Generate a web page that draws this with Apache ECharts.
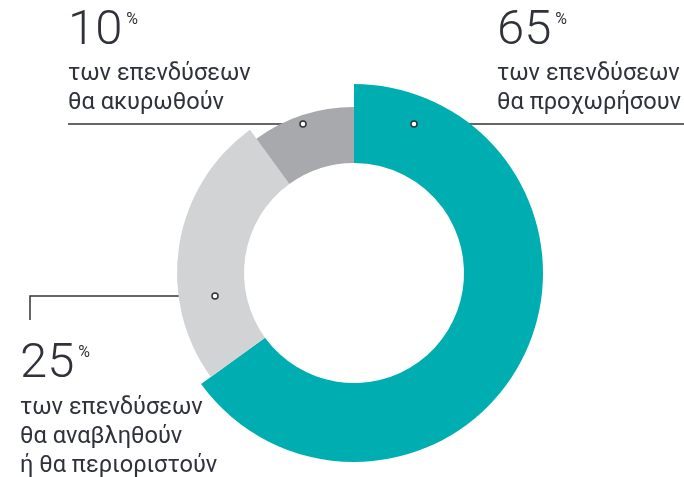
<!DOCTYPE html>
<html>
<head>
<meta charset="utf-8">
<style>
  html, body { margin: 0; padding: 0; background: #fff; }
  #chart { width: 684px; height: 477px; }
</style>
<script src="https://cdn.jsdelivr.net/npm/echarts@6/dist/echarts.min.js"></script>
</head>
<body>
<div id="chart"></div>
<script>
// data
const categories = ["θα προχωρήσουν", "θα αναβληθούν ή θα περιοριστούν", "θα ακυρωθούν"];
const values = [65, 25, 10];
const captionLines = [
  ["των επενδύσεων", "θα προχωρήσουν"],
  ["των επενδύσεων", "θα αναβληθούν", "ή θα περιοριστούν"],
  ["των επενδύσεων", "θα ακυρωθούν"],
];

// styles
const colors = ["#00aeb1", "#d1d3d4", "#a7a9ac"];
const outerRadius = [189, 177, 166];
const innerRadius = 110;
const center = [354, 273];
const textColor = "#30323b";
const lineColor = "#333333";
const fontFamily = "Roboto, 'Noto Sans', sans-serif";
const numFont = "300 49px " + fontFamily;
const capFont = "400 23.6px " + fontFamily;
const pctFont = "400 16px " + fontFamily;

// label layout: number position, caption position, leader line points
const labelLayout = [
  { num: [497, 7], cap: [497, 62], line: [[414, 124], [684, 124]] },
  { num: [20, 340], cap: [20, 396], line: [[215, 296], [30, 296], [30, 320]] },
  { num: [68, 7], cap: [68, 62], line: [[303, 124], [68, 124]] },
];
const lineGap = 29;

// width of a string, for placing the % sign
const measureCtx = document.createElement("canvas").getContext("2d");
function textWidth(text, font) {
  measureCtx.font = font;
  return measureCtx.measureText(text).width;
}

const chart = echarts.init(document.getElementById("chart"));

let series = [];
for (let i = 0; i < values.length; i++) {
  series.push({
    type: "pie",
    center: center,
    radius: [innerRadius, outerRadius[i]],
    startAngle: 90,
    clockwise: true,
    silent: true,
    animation: false,
    label: { show: false },
    labelLine: { show: false },
    emphasis: { disabled: true },
    data: values.map((v, j) => ({
      name: categories[j],
      value: v,
      itemStyle: { color: j === i ? colors[i] : "rgba(0,0,0,0)" },
    })),
  });
}

let graphics = [];
for (let i = 0; i < values.length; i++) {
  let lay = labelLayout[i];
  let numText = String(values[i]);
  // big number
  graphics.push({
    type: "text",
    silent: true,
    style: {
      x: lay.num[0],
      y: lay.num[1],
      text: numText,
      font: numFont,
      fill: textColor,
      verticalAlign: "top",
    },
  });
  // percent sign
  graphics.push({
    type: "text",
    silent: true,
    style: {
      x: lay.num[0] + textWidth(numText, numFont) + 4,
      y: lay.num[1] + 5,
      text: "%",
      font: pctFont,
      fill: textColor,
      verticalAlign: "top",
    },
  });
  // caption lines
  captionLines[i].forEach((t, k) => {
    graphics.push({
      type: "text",
      silent: true,
      style: {
        x: lay.cap[0],
        y: lay.cap[1] + k * lineGap,
        text: t,
        font: capFont,
        fill: textColor,
        verticalAlign: "top",
      },
    });
  });
  // leader line
  graphics.push({
    type: "polyline",
    silent: true,
    shape: { points: lay.line },
    style: { stroke: lineColor, lineWidth: 1.5, fill: null },
  });
  graphics.push({
    type: "circle",
    silent: true,
    shape: { cx: lay.line[0][0], cy: lay.line[0][1], r: 3 },
    style: { fill: "#fff", stroke: lineColor, lineWidth: 1.5 },
    z: 10,
  });
}

chart.setOption({
  backgroundColor: "#fff",
  animation: false,
  series: series,
  graphic: graphics,
});
</script>
</body>
</html>
